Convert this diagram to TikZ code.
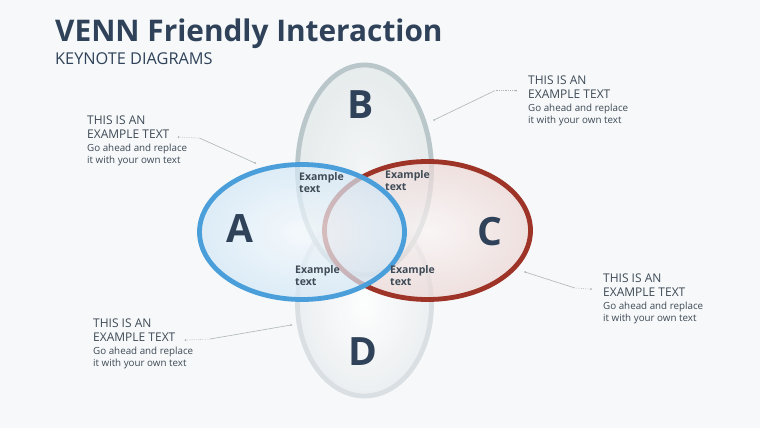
\documentclass[tikz,border=0pt]{standalone}
\usepackage{fontspec}
\setmainfont{Open Sans}
\usetikzlibrary{positioning, calc}
\definecolor{cBg}{HTML}{F6F8F9}
\definecolor{cInk}{HTML}{2F4259}
\definecolor{cText}{HTML}{3E4A56}
\definecolor{cA}{HTML}{4A9FDB}
\definecolor{cC}{HTML}{9E3328}
\definecolor{cB}{HTML}{B9C6CA}
\definecolor{cD}{HTML}{D9DFE3}
\definecolor{cLead}{HTML}{AEB5BA}

\begin{document}
\begin{tikzpicture}[
    x=1pt, y=-1pt,
    ring/.style={line width=4.8pt},
    big/.style={font=\fontsize{39}{39}\selectfont\bfseries, text=cInk, inner sep=0pt},
    lens/.style={font=\fontsize{10.5}{12}\selectfont\bfseries, text=cText,
                 align=left, inner sep=0pt, anchor=north west},
    head/.style={font=\fontsize{12}{14}\selectfont, text=cText, align=left,
                 inner sep=0pt, anchor=north west},
    body/.style={font=\fontsize{9.8}{12}\selectfont, text=cText, align=left,
                 inner sep=0pt},
    lead/.style={draw=cLead, line width=0.6pt},
    dots/.style={lead, dash pattern=on 0.6pt off 1.2pt},
]

% ===================== Fondo y título =====================
\fill[cBg] (0,0) rectangle (760,428);
\node[anchor=base west, inner sep=0pt, text=cInk,
      font=\fontsize{29.8}{30}\selectfont\bfseries] (title) at (55,42)
      {VENN Friendly Interaction};
\node[anchor=base west, inner sep=0pt, text=cInk,
      font=\fontsize{16.3}{16.3}\selectfont] (subtitle) at (55,64)
      {KEYNOTE DIAGRAMS};

% ===================== Elipses =====================
\shade[inner color=white, outer color=cD!55, fill opacity=0.85]
      (364.5,304) ellipse [x radius=67, y radius=92];
\draw[ring, cD] (364.5,304) ellipse [x radius=67, y radius=92];

\shade[inner color=cB!18, outer color=cB!42, fill opacity=0.75]
      (364.5,170) ellipse [x radius=67, y radius=105];
\draw[ring, cB] (364.5,170) ellipse [x radius=67, y radius=105];

\shade[inner color=cC!5, outer color=cC!20, fill opacity=0.7]
      (427.5,230.5) ellipse [x radius=103, y radius=69];
\draw[ring, cC] (427.5,230.5) ellipse [x radius=103, y radius=69];

\shade[inner color=cA!6, outer color=cA!25, fill opacity=0.7]
      (302,232) ellipse [x radius=102.5, y radius=67.5];
\draw[ring, cA] (302,232) ellipse [x radius=102.5, y radius=67.5];

% ===================== Letras =====================
\node[big] (A) at (240,229) {A};
\node[big] (B) at (361,104.5) {B};
\node[big] (C) at (490,232) {C};
\node[big] (D) at (363,352) {D};

\node[lens] (ab) at (299,172) {Example\\text};
\node[lens] (bc) at (385,170) {Example\\text};
\node[lens] (ad) at (295,265) {Example\\text};
\node[lens] (cd) at (390,265) {Example\\text};

% ===================== Notas =====================
\node[head] (tlh) at (87,116) {THIS IS AN\\EXAMPLE TEXT};
\node[body, below=5pt of tlh.south west, anchor=north west] (tlb)
      {Go ahead and replace\\it with your own text};

\node[head] (trh) at (528,76) {THIS IS AN\\EXAMPLE TEXT};
\node[body, below=5pt of trh.south west, anchor=north west] (trb)
      {Go ahead and replace\\it with your own text};

\node[head] (rh) at (603,274) {THIS IS AN\\EXAMPLE TEXT};
\node[body, below=5pt of rh.south west, anchor=north west] (rb)
      {Go ahead and replace\\it with your own text};

\node[head] (blh) at (93,319) {THIS IS AN\\EXAMPLE TEXT};
\node[body, below=5pt of blh.south west, anchor=north west] (blb)
      {Go ahead and replace\\it with your own text};

% ===================== Guías =====================
\coordinate (aEdge) at (255,163);
\coordinate (bEdge) at (434,120);
\coordinate (cEdge) at (525,272);
\coordinate (dEdge) at (291,325);

\draw[dots] ([xshift=9pt, yshift=2pt]tlh.south east) -- ++(21,1) coordinate (tlk);
\draw[lead] (tlk) -- (aEdge);
\draw[dots] ([xshift=-12pt, yshift=-3pt]trh.west) -- ++(-21,0) coordinate (trk);
\draw[lead] (trk) -- (bEdge);
\draw[dots] ([xshift=-12pt, yshift=-3.5pt]rh.west) -- ++(-16,-1) coordinate (rk);
\draw[lead] (rk) -- (cEdge);
\draw[dots] ([xshift=10pt, yshift=2pt]blh.south east) -- ++(24,-1) coordinate (blk);
\draw[lead] (blk) -- (dEdge);

\foreach \p in {aEdge, bEdge, cEdge, dEdge} {
    \fill[cLead] (\p) circle (1pt);
}
\fill[cLead] ([xshift=9pt, yshift=2pt]tlh.south east) circle (1pt);
\fill[cLead] ([xshift=-12pt, yshift=-3pt]trh.west) circle (1pt);
\fill[cLead] ([xshift=-12pt, yshift=-3.5pt]rh.west) circle (1pt);
\fill[cLead] ([xshift=10pt, yshift=2pt]blh.south east) circle (1pt);

\end{tikzpicture}
\end{document}
